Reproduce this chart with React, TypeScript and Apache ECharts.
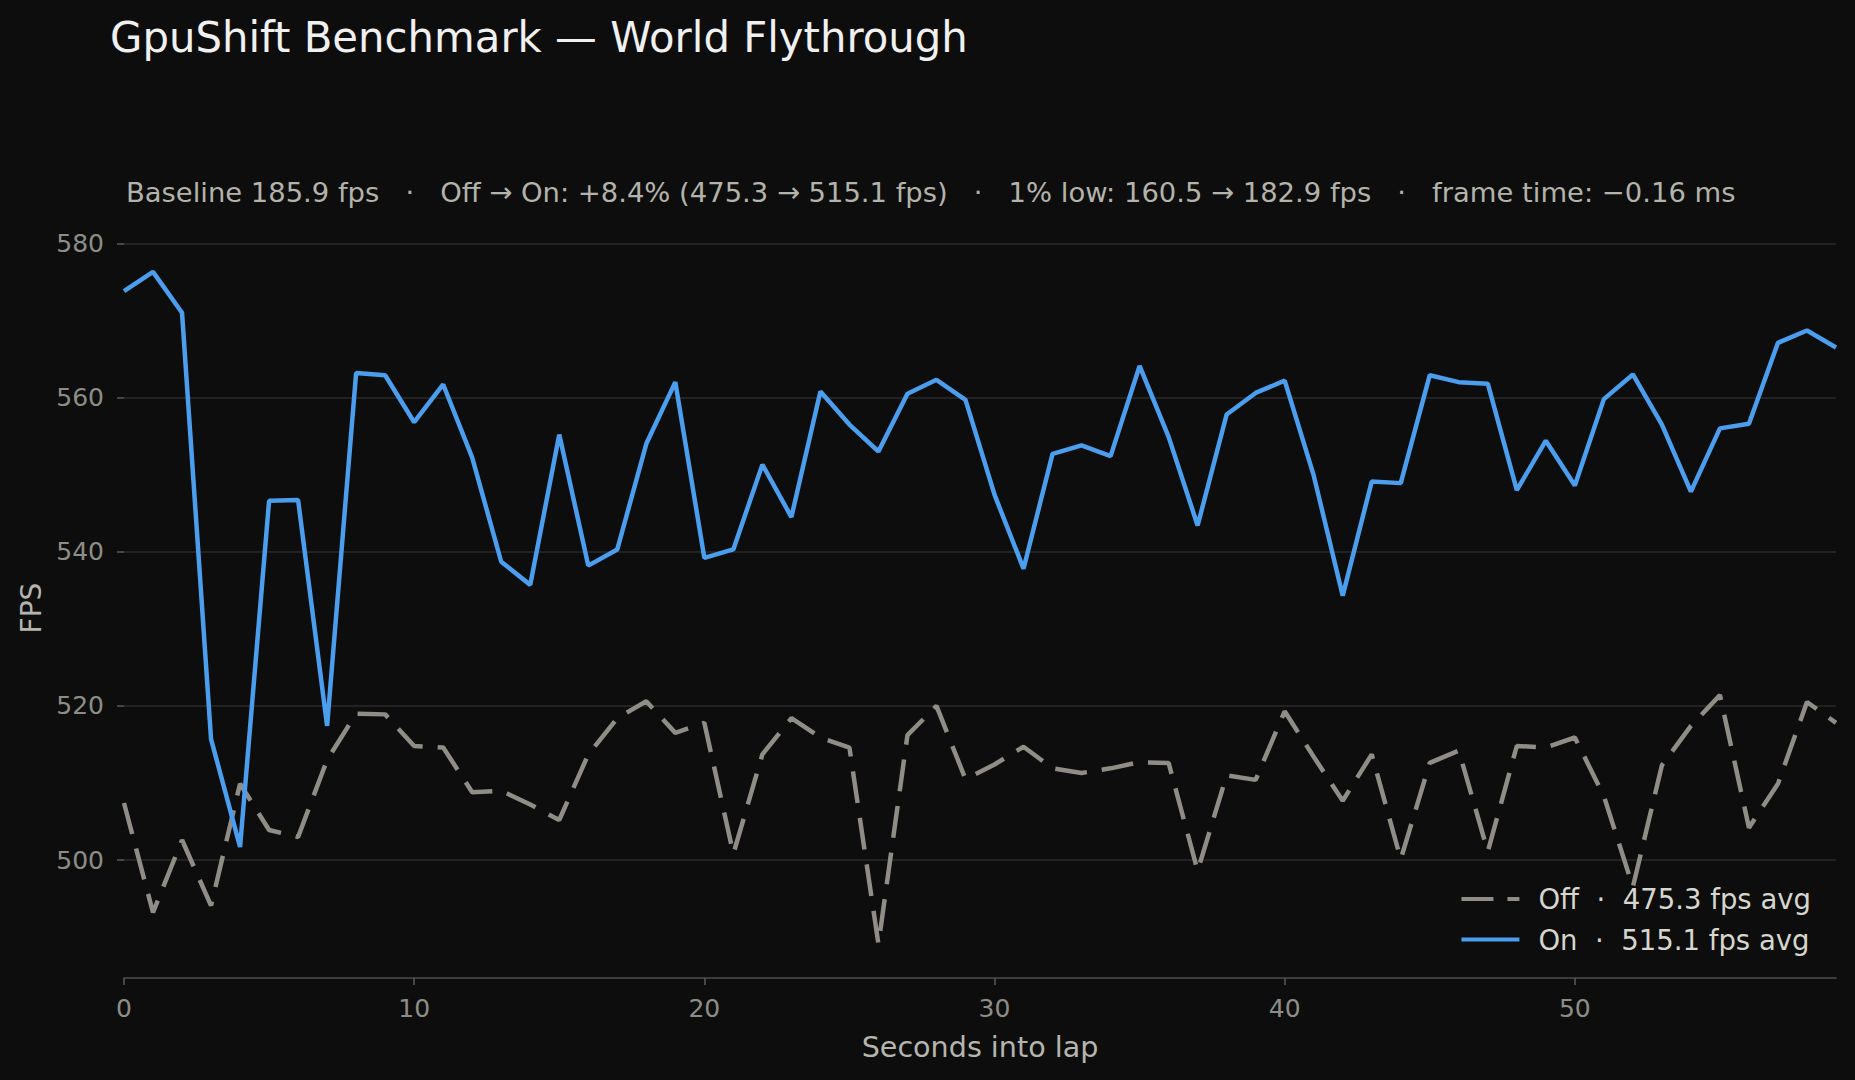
import { useEffect, useRef } from 'react';
import * as echarts from 'echarts';

const seconds = [
  0, 1, 2, 3, 4, 5, 6, 7, 8, 9, 10, 11, 12, 13, 14, 15, 16, 17, 18, 19,
  20, 21, 22, 23, 24, 25, 26, 27, 28, 29, 30, 31, 32, 33, 34, 35, 36, 37, 38, 39,
  40, 41, 42, 43, 44, 45, 46, 47, 48, 49, 50, 51, 52, 53, 54, 55, 56, 57, 58, 59,
];

// GpuShift off (dashed grey)
const offFps = [
  507.4, 493.2, 502.6, 494.1, 509.9, 503.9, 503.0, 513.0, 519.0, 518.9,
  514.8, 514.6, 508.8, 509.0, 507.2, 505.2, 513.7, 518.4, 520.6, 516.5,
  517.8, 500.8, 513.7, 518.4, 515.9, 514.6, 489.1, 516.2, 520.0, 510.5,
  512.4, 514.7, 511.9, 511.3, 511.9, 512.7, 512.6, 498.6, 511.0, 510.4,
  519.3, 513.4, 507.7, 513.7, 500.1, 512.6, 514.2, 501.1, 514.8, 514.6,
  515.9, 508.3, 496.5, 512.3, 517.4, 521.4, 504.2, 509.9, 520.5, 517.8,
];

// GpuShift on (solid blue)
const onFps = [
  573.8, 576.3, 571.0, 515.7, 501.7, 546.6, 546.7, 517.4, 563.2, 562.9,
  556.8, 561.7, 552.2, 538.7, 535.7, 555.2, 538.2, 540.3, 554.0, 562.0,
  539.2, 540.3, 551.3, 544.5, 560.8, 556.5, 553.0, 560.5, 562.3, 559.7,
  547.4, 537.8, 552.7, 553.8, 552.4, 564.1, 554.9, 543.4, 557.8, 560.6,
  562.2, 549.9, 534.3, 549.1, 548.9, 562.9, 562.0, 561.8, 548.0, 554.4,
  548.6, 559.8, 563.0, 556.5, 547.8, 556.0, 556.6, 567.1, 568.7, 566.5,
];

const seriesNames = ['Off', 'On'];
const avgLabels = ['475.3 fps avg', '515.1 fps avg'];
const yTicks = [500, 520, 540, 560, 580];

const TITLE = 'GpuShift Benchmark — World Flythrough';
const SUBTITLE =
  'Baseline 185.9 fps   ·   Off → On: +8.4% (475.3 → 515.1 fps)   ·   1% low: 160.5 → 182.9 fps   ·   frame time: −0.16 ms';

const FONT = '"DejaVu Sans", sans-serif';
const OFF_COLOR = '#8f8d86';
const ON_COLOR = '#4b9ded';

// legend swatches: a dash + short dash for "Off", a solid bar for "On"
const OFF_ICON = 'path://M0,0H32V4H0Z M46,0H58V4H46Z';
const ON_ICON = 'path://M0,0H58V4H0Z';

const App = () => {
  const chartRef = useRef<HTMLDivElement>(null);

  useEffect(() => {
    if (!chartRef.current) return;
    const chart = echarts.init(chartRef.current, null, { renderer: 'svg' });

    const option = {
      animation: false,
      backgroundColor: '#0d0d0d',
      textStyle: { fontFamily: FONT },
      title: [
        {
          text: TITLE,
          left: 105,
          top: 11,
          textStyle: { color: '#f0f0f0', fontSize: 41.8, fontWeight: 'normal', fontFamily: FONT },
        },
        {
          text: SUBTITLE,
          left: 121,
          top: 174,
          textStyle: { color: '#b3b3ab', fontSize: 27.4, fontWeight: 'normal', fontFamily: FONT },
        },
      ],
      grid: { left: 124, right: 19, top: 238, bottom: 102 },
      legend: {
        orient: 'vertical',
        right: 39,
        top: 880,
        itemWidth: 58,
        itemHeight: 4,
        itemGap: 12.5,
        itemStyle: { borderWidth: 0 },
        data: [
          { name: seriesNames[0], icon: OFF_ICON },
          { name: seriesNames[1], icon: ON_ICON },
        ],
        formatter: (name: string) => `${name}  ·  ${avgLabels[seriesNames.indexOf(name)]}`,
        textStyle: { color: '#d6d6ce', fontSize: 27.5, fontFamily: FONT, padding: [0, 0, 0, 14] },
      },
      xAxis: {
        type: 'category',
        data: seconds,
        boundaryGap: false,
        name: 'Seconds into lap',
        nameLocation: 'middle',
        nameGap: 54,
        nameTextStyle: { color: '#b5b5ad', fontSize: 28.6, fontFamily: FONT },
        axisLine: { show: true, lineStyle: { color: '#4e4e4e', width: 1.5 } },
        axisTick: { show: true, interval: 9, length: 7, lineStyle: { color: '#5a5a5a', width: 1.5 } },
        axisLabel: { interval: 9, margin: 18, color: '#8d8d87', fontSize: 25, fontFamily: FONT },
        splitLine: { show: false },
      },
      yAxis: {
        type: 'value',
        min: 484.7,
        max: 580.7,
        name: 'FPS',
        nameLocation: 'middle',
        nameGap: 77,
        nameTextStyle: { color: '#b5b5ad', fontSize: 28, fontFamily: FONT },
        axisLine: { show: false },
        axisTick: { show: true, length: 7, customValues: yTicks, lineStyle: { color: '#5a5a5a', width: 1.5 } },
        axisLabel: { margin: 20, customValues: yTicks, color: '#8d8d87', fontSize: 25, fontFamily: FONT },
        splitLine: { show: true, lineStyle: { color: '#2a2a2a', width: 1.5 } },
      },
      series: [
        {
          name: 'Off',
          type: 'line',
          data: offFps,
          symbol: 'none',
          lineStyle: { color: OFF_COLOR, width: 4.5, type: [32, 15] },
          itemStyle: { color: OFF_COLOR },
        },
        {
          name: 'On',
          type: 'line',
          data: onFps,
          symbol: 'none',
          lineStyle: { color: ON_COLOR, width: 4.5 },
          itemStyle: { color: ON_COLOR },
        },
      ],
    };

    chart.setOption(option);
    return () => chart.dispose();
  }, []);

  return (
    <div
      ref={chartRef}
      style={{ position: 'fixed', left: 0, top: 0, width: '1855px', height: '1080px', background: '#0d0d0d' }}
    />
  );
};

export default App;
